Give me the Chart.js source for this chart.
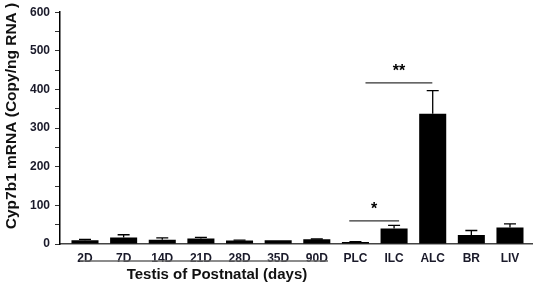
<!DOCTYPE html>
<html><head><meta charset="utf-8">
<script src="https://cdn.jsdelivr.net/npm/chart.js@4"></script>
<style>html,body{margin:0;padding:0;background:#fff}#wrap{width:536px;height:288px}</style>
</head><body><div id="wrap"><canvas id="c" width="536" height="288"></canvas></div>
<script>
const categories = ['2D','7D','14D','21D','28D','35D','90D','PLC','ILC','ALC','BR','LIV'];
const values = [10, 17, 11, 14, 9, 10, 12, 5, 40, 337, 23, 43];
const errors = [2, 7, 5, 3, 1, 0, 1, 1, 8, 60, 12, 9];
const yTicks = [0, 100, 200, 300, 400, 500, 600];
const sigMarks = [
  {from: 6.84, to: 8.13, y: 60, text: '*'},
  {from: 7.26, to: 8.99, y: 417, text: '**'}
];
const groupRange = [-0.13, 6.29];
const groupTitle = 'Testis of Postnatal (days)';
const yTitle = 'Cyp7b1 mRNA (Copy/ng RNA )';

const FONT = "'Liberation Sans', Arial, sans-serif";
const points = values.map((v, i) => ({x: i, y: v}));

const extras = {
  id: 'extras',
  afterDatasetsDraw(chart) {
    const ctx = chart.ctx, x = chart.scales.x, y = chart.scales.y;
    ctx.save();
    // error bars
    ctx.strokeStyle = '#000'; ctx.lineWidth = 1.3;
    values.forEach((v, i) => {
      if (!errors[i]) return;
      const px = x.getPixelForValue(i);
      const y0 = y.getPixelForValue(v), y1 = y.getPixelForValue(v + errors[i]);
      ctx.beginPath();
      ctx.moveTo(px, y0); ctx.lineTo(px, y1);
      ctx.moveTo(px - 6, y1); ctx.lineTo(px + 6, y1);
      ctx.stroke();
    });
    // significance marks
    ctx.strokeStyle = '#333'; ctx.lineWidth = 1.2;
    ctx.fillStyle = '#000';
    ctx.font = 'bold 16px ' + FONT;
    ctx.textAlign = 'center'; ctx.textBaseline = 'middle';
    sigMarks.forEach(m => {
      const a = x.getPixelForValue(m.from), b = x.getPixelForValue(m.to), py = y.getPixelForValue(m.y);
      ctx.beginPath(); ctx.moveTo(a, py); ctx.lineTo(b, py); ctx.stroke();
      ctx.fillText(m.text, (a + b) / 2, py - 11);
    });
    // group underline + title
    const g0 = x.getPixelForValue(groupRange[0]), g1 = x.getPixelForValue(groupRange[1]);
    ctx.strokeStyle = '#666'; ctx.lineWidth = 1.5;
    ctx.beginPath(); ctx.moveTo(g0, 261); ctx.lineTo(g1, 261); ctx.stroke();
    ctx.font = 'bold 15px ' + FONT;
    ctx.fillStyle = '#111';
    ctx.fillText(groupTitle, 217, 275);
    // y title
    ctx.translate(12, 116);
    ctx.rotate(-Math.PI / 2);
    ctx.font = 'bold 15.5px ' + FONT;
    ctx.fillText(yTitle, 0, 0);
    ctx.restore();
  }
};

new Chart(document.getElementById('c'), {
  type: 'bar',
  data: {
    datasets: [{
      data: points,
      backgroundColor: '#000',
      borderWidth: 0,
      categoryPercentage: 1,
      barPercentage: 0.7
    }]
  },
  options: {
    responsive: false,
    animation: false,
    events: [],
    layout: {padding: {top: 11, right: 4, left: 0, bottom: 0}},
    plugins: {legend: {display: false}, tooltip: {enabled: false}},
    scales: {
      x: {
        type: 'linear',
        offset: false,
        min: -0.647,
        max: 11.57,
        grid: {display: false, drawTicks: false, tickLength: 0},
        border: {display: true, color: '#444', width: 1.5},
        ticks: {
          stepSize: 1,
          autoSkip: false,
          maxRotation: 0,
          includeBounds: false,
          padding: 7,
          color: '#1a1a2a',
          font: {family: FONT, size: 12, weight: 'bold'},
          callback: (v) => {
            const r = Math.round(v);
            return (Math.abs(v - r) < 1e-6 && r >= 0 && r < categories.length) ? categories[r] : '';
          }
        },
        afterFit: (s) => { s.height = 44; }
      },
      y: {
        min: 0,
        max: 600,
        grid: {drawOnChartArea: false, drawTicks: true, tickLength: 5, color: '#333'},
        border: {display: true, color: '#000', width: 1.5},
        ticks: {
          stepSize: 50,
          padding: 5,
          color: '#1a1a2a',
          font: {family: FONT, size: 12, weight: 'bold'},
          callback: (v) => yTicks.includes(v) ? String(v) : ''
        },
        afterFit: (s) => { s.width = 60; }
      }
    }
  },
  plugins: [extras]
});
</script>
</body></html>
